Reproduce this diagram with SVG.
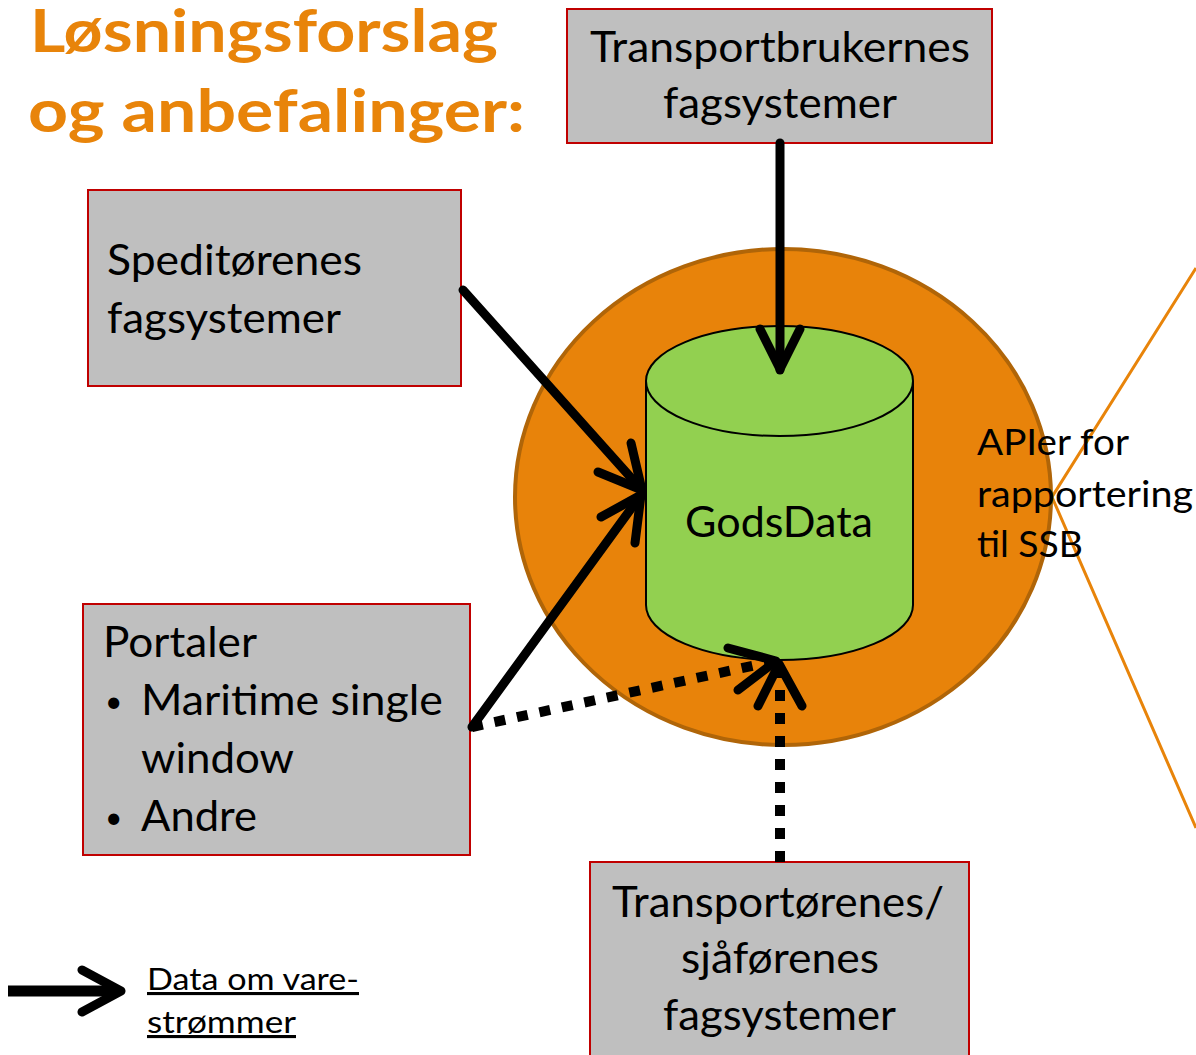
<svg xmlns="http://www.w3.org/2000/svg" width="1196" height="1055" viewBox="0 0 1196 1055">
<style>
.t{font-family:Lato,"Open Sans",sans-serif;fill:#000}
.box{fill:#BFBFBF;stroke:#C00000;stroke-width:2}
.arr{fill:none;stroke:#000;stroke-width:9;stroke-linecap:round;stroke-linejoin:round}
.dot{fill:none;stroke:#000;stroke-width:10;stroke-dasharray:11 12}
.ttl{font-family:Lato,"Open Sans",sans-serif;font-weight:bold;fill:#E8840A;font-size:60px}
</style>
<rect width="1196" height="1055" fill="#fff"/>
<g id="title">
<text class="ttl" x="30" y="52" textLength="468" lengthAdjust="spacingAndGlyphs">Løsningsforslag</text>
<text class="ttl" x="28" y="132" textLength="497" lengthAdjust="spacingAndGlyphs">og anbefalinger:</text>
</g>
<g id="circle">
<ellipse cx="783" cy="497" rx="268" ry="248" fill="#E8830A" stroke="#B06508" stroke-width="4"/>
</g>
<g id="orange-lines">
<path d="M1196 268 L1052 497 L1196 828" fill="none" stroke="#E8840A" stroke-width="3"/>
</g>
<g id="api-label">
<text class="t" font-size="37" x="977" y="455" textLength="152" lengthAdjust="spacingAndGlyphs">APIer for</text>
<text class="t" font-size="37" x="977" y="507" textLength="216" lengthAdjust="spacingAndGlyphs">rapportering</text>
<text class="t" font-size="37" x="977" y="557" textLength="106" lengthAdjust="spacingAndGlyphs">til SSB</text>
</g>
<g id="godsdata">
<path d="M646 381 L646 605 A133.5 55 0 0 0 913 605 L913 381" fill="#92D050" stroke="#000" stroke-width="2"/>
<ellipse cx="779.5" cy="381" rx="133.5" ry="55" fill="#92D050" stroke="#000" stroke-width="2"/>
<text class="t" font-size="42" x="685" y="537" textLength="188" lengthAdjust="spacingAndGlyphs">GodsData</text>
</g>
<g id="transportbrukernes">
<rect class="box" x="567" y="9" width="425" height="134"/>
<text class="t" font-size="42" x="590" y="62" textLength="380" lengthAdjust="spacingAndGlyphs">Transportbrukernes</text>
<text class="t" font-size="42" x="663" y="118" textLength="234" lengthAdjust="spacingAndGlyphs">fagsystemer</text>
</g>
<g id="speditorenes">
<rect class="box" x="88" y="190" width="373" height="196"/>
<text class="t" font-size="42" x="107" y="275" textLength="255" lengthAdjust="spacingAndGlyphs">Speditørenes</text>
<text class="t" font-size="42" x="107" y="333" textLength="234" lengthAdjust="spacingAndGlyphs">fagsystemer</text>
</g>
<g id="portaler">
<rect class="box" x="83" y="604" width="387" height="251"/>
<text class="t" font-size="42" x="103" y="657" textLength="154" lengthAdjust="spacingAndGlyphs">Portaler</text>
<text class="t" font-size="30" x="105" y="712">•</text>
<text class="t" font-size="42" x="141" y="715" textLength="302" lengthAdjust="spacingAndGlyphs">Maritime single</text>
<text class="t" font-size="42" x="141" y="773" textLength="153" lengthAdjust="spacingAndGlyphs">window</text>
<text class="t" font-size="30" x="105" y="828">•</text>
<text class="t" font-size="42" x="141" y="831" textLength="116" lengthAdjust="spacingAndGlyphs">Andre</text>
</g>
<g id="transportorenes">
<rect class="box" x="590" y="862" width="379" height="200"/>
<text class="t" font-size="42" x="612" y="917" textLength="332" lengthAdjust="spacingAndGlyphs">Transportørenes/</text>
<text class="t" font-size="42" x="681" y="973" textLength="198" lengthAdjust="spacingAndGlyphs">sjåførenes</text>
<text class="t" font-size="42" x="663" y="1030" textLength="233" lengthAdjust="spacingAndGlyphs">fagsystemer</text>
</g>
<g id="connectors">
<path class="arr" d="M780 143 L780 370"/>
<path class="arr" d="M760 329 L780 369 L800 329"/>
<path class="arr" d="M463 290 L642 490"/>
<path class="arr" d="M598 472 L642 490 L631 443"/>
<path class="arr" d="M472 727 L641 495"/>
<path class="arr" d="M601 517 L641 495 L635 543"/>
<path class="dot" d="M472 727 L770 662"/>
<path class="arr" d="M728 648 L776 661 L738 690"/>
<path class="dot" d="M780 862 L780 672"/>
<path class="arr" d="M758 706 L779 664 L802 706"/>
</g>
<g id="legend">
<path d="M8 991 L112 991" stroke="#000" stroke-width="11" fill="none"/>
<path class="arr" d="M82 970 L121 991 L82 1012"/>
<text class="t" font-size="31" x="147" y="990" textLength="212" lengthAdjust="spacingAndGlyphs" text-decoration="underline">Data om vare-</text>
<text class="t" font-size="31" x="147" y="1033" textLength="149" lengthAdjust="spacingAndGlyphs" text-decoration="underline">strømmer</text>
</g>
</svg>
